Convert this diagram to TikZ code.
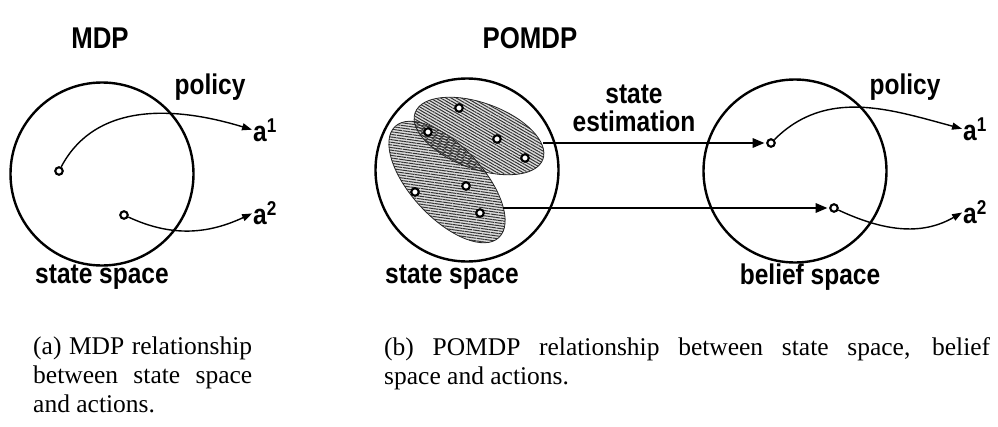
\documentclass[tikz,border=0pt]{standalone}
\usepackage{fontspec}
\setmainfont{Liberation Serif}
\setsansfont{Liberation Sans}
% narrow bold sans used for all figure labels
\newfontfamily\figfont[FakeStretch=0.86]{Liberation Sans}
\usetikzlibrary{arrows.meta,patterns.meta}
\begin{document}
\begin{tikzpicture}[x=1pt,y=1pt,
  space/.style={draw, line width=2.4pt, circle, minimum size=183pt, inner sep=0pt},
  dot/.style={draw, circle, line width=2.1pt, minimum size=7.5pt, inner sep=0pt, fill=white},
  title/.style={font=\figfont\bfseries\fontsize{30}{36}\selectfont},
  lbl/.style={font=\figfont\bfseries\fontsize{28.5}{28}\selectfont, inner sep=0pt},
  act/.style={lbl, anchor=west},
  policy/.style={-{Triangle[length=10pt,width=7pt]}, line width=1.4pt, shorten >=1pt},
  est/.style={-{Triangle[length=12pt,width=9pt]}, line width=2.8pt, shorten >=1.5pt},
  caption/.style={font=\rmfamily\fontsize{25.5}{29}\selectfont, align=justify, anchor=north west, inner sep=0pt},
  belief set/.style={line width=0.8pt, draw=black!85},
  hatch/.style={pattern={Lines[angle=#1,distance=2.6pt,line width=1pt]}, pattern color=black!80},
]
\useasboundingbox (0,0) rectangle (998,-426);

% ---------- titles ----------
\node[title] (tmdp) at (100,-38) {MDP};
\node[title] (tpomdp) at (530,-38) {POMDP};

% ---------- MDP: state space and policy ----------
\node[space] (ss1) at (102,-174) {};
\node[dot] (m1) at (59,-171) {};
\node[dot] (m2) at (124,-215) {};
\node[act] (ma1) at (253,-130) {a\textsuperscript{1}};
\node[act] (ma2) at (253,-213) {a\textsuperscript{2}};
\node[lbl] (mpol) at (210,-87) {policy};
\node[lbl] (mss) at (102,-277) {state space};
\draw[policy] (m1) to[out=62,in=163] (ma1.west);
\draw[policy] (m2) to[out=-25,in=205] (ma2.west);

% ---------- POMDP: state space with two belief sets ----------
\node[space] (ss2) at (467,-170) {};
\begin{scope}[shift={(447,-182)}, rotate=-47]
  \fill[gray!25] (0,0) ellipse [x radius=76, y radius=36];
\end{scope}
\begin{scope}[shift={(479,-136)}, rotate=-20]
  \fill[gray!25] (0,0) ellipse [x radius=68, y radius=33];
\end{scope}
\begin{scope}[shift={(447,-182)}, rotate=-47]
  \fill[hatch=-8] (0,0) ellipse [x radius=76, y radius=36];
  \draw[belief set] (0,0) ellipse [x radius=76, y radius=36];
\end{scope}
\begin{scope}[shift={(479,-136)}, rotate=-20]
  \fill[hatch=-30] (0,0) ellipse [x radius=68, y radius=33];
  \draw[belief set] (0,0) ellipse [x radius=68, y radius=33];
\end{scope}
\node[dot] (p1) at (459,-108) {};
\node[dot] (p2) at (428,-132) {};
\node[dot] (p3) at (497,-139) {};
\node[dot] (p4) at (525,-158) {};
\node[dot] (p5) at (466,-186) {};
\node[dot] (p6) at (415,-192) {};
\node[dot] (p7) at (480,-213) {};
\coordinate (e1) at (543,-143);
\coordinate (e2) at (503,-208);
\node[lbl] (pss) at (452,-277) {state space};
\node[lbl, align=center] (sest) at (634,-108) {state\\estimation};

% ---------- POMDP: belief space and policy ----------
\node[space] (bs) at (795,-171) {};
\node[dot] (b1) at (771,-143) {};
\node[dot] (b2) at (834,-208) {};
\draw[est] (e1) -- (b1);
\draw[est] (e2) -- (b2);
\node[act] (ba1) at (963,-129) {a\textsuperscript{1}};
\node[act] (ba2) at (963,-212) {a\textsuperscript{2}};
\node[lbl] (bpol) at (905,-87) {policy};
\node[lbl] (bss) at (810,-277) {belief space};
\draw[policy] (b1) to[out=45,in=165] (ba1.west);
\draw[policy] (b2) to[out=-25,in=210] (ba2.west);

% ---------- captions ----------
\node[caption, text width=219pt] (capa) at (33,-337)
  {(a) MDP relationship\linebreak between state space\linebreak and actions.};
\node[caption, text width=606pt] (capb) at (384,-337)
  {(b) POMDP relationship between state space, belief\linebreak space and actions.};
\end{tikzpicture}
\end{document}
